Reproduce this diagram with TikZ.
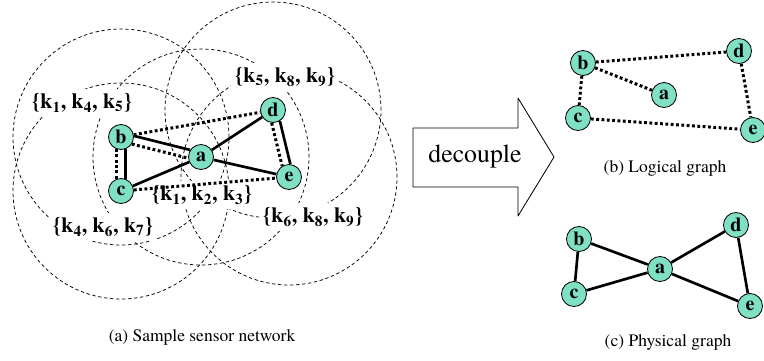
\documentclass[tikz,border=0pt]{standalone}
\usepackage{fontspec}
\setmainfont{TeX Gyre Termes}

\definecolor{motecol}{RGB}{128,224,196}
\tikzset{
    mote/.style={circle, draw=black, line width=0.5pt, fill=motecol,
        minimum size=15pt, inner sep=0pt, font=\fontsize{12}{12}\selectfont\bfseries},
    radio/.style={line width=0.45pt, dash pattern=on 2pt off 1.6pt},
    keyring/.style={fill=white, inner sep=2.5pt, font=\fontsize{13}{15}\selectfont\bfseries},
    phys/.style={line width=1.6pt},
    logi/.style={line width=1.8pt, dash pattern=on 1.7pt off 1.5pt},
    caption/.style={font=\fontsize{10.5}{12}\selectfont}
}

\begin{document}
\begin{tikzpicture}[x=0.6pt, y=-0.6pt, line join=round]
    \useasboundingbox (0,0) rectangle (764,360);

    % sensor positions
    \coordinate (A) at (201,157);
    \coordinate (B) at (121,137);
    \coordinate (C) at (121,191);
    \coordinate (D) at (273,110);
    \coordinate (E) at (289,177);

    % radio ranges
    \foreach \i in {A,B,C,D,E}
        \draw[radio] (\i) circle (64.8pt);

    % key rings
    \node[keyring] (kb) at (82,103) {\{k\textsubscript{1}, k\textsubscript{4}, k\textsubscript{5}\}};
    \node[keyring] (kd) at (285,77) {\{k\textsubscript{5}, k\textsubscript{8}, k\textsubscript{9}\}};
    \node[keyring] (ka) at (202,195) {\{k\textsubscript{1}, k\textsubscript{2}, k\textsubscript{3}\}};
    \node[keyring] (kc) at (103,227) {\{k\textsubscript{4}, k\textsubscript{6}, k\textsubscript{7}\}};
    \node[keyring] (ke) at (313,217) {\{k\textsubscript{6}, k\textsubscript{8}, k\textsubscript{9}\}};

    \node[mote] (a) at (A) {a};
    \node[mote] (b) at (B) {b};
    \node[mote] (c) at (C) {c};
    \node[mote] (d) at (D) {d};
    \node[mote] (e) at (E) {e};

    \draw[phys] (b.290)--(c.70);
    \draw[logi] (b.250)--(c.110);
    \draw[phys] (b.5)--(a.147);
    \draw[logi] (b.-33)--(a.185);
    \draw[logi] (b)--(d);
    \draw[phys] (c)--(a);
    \draw[phys] (a)--(d);
    \draw[phys] (a)--(e);
    \draw[logi] (c)--(e);
    \draw[phys] (d.-58)--(e.84);
    \draw[logi] (d.-96)--(e.122);

    \node[caption] (capa) at (202,337) {(a) Sample sensor network};

    % decouple arrow
    \coordinate (T) at (554,157);
    \draw[line width=0.5pt] (413,128) -- (518,128) -- (518,98) -- (T)
        -- (518,216) -- (518,187) -- (413,187) -- cycle;
    \node[font=\fontsize{15.5}{17}\selectfont] (dec) at (475,156) {decouple};

    % logical graph
    \node[mote] (la) at (664,95) {a};
    \node[mote] (lb) at (583,63) {b};
    \node[mote] (lc) at (578,118) {c};
    \node[mote] (ld) at (739,51) {d};
    \node[mote] (le) at (753,130) {e};
    \draw[logi] (lb)--(ld);
    \draw[logi] (lb)--(la);
    \draw[logi] (lb)--(lc);
    \draw[logi] (lc)--(le);
    \draw[logi] (ld)--(le);
    \node[caption] (capb) at (665,168) {(b) Logical graph};

    % physical graph
    \node[mote] (pa) at (660,269) {a};
    \node[mote] (pb) at (579,239) {b};
    \node[mote] (pc) at (574,294) {c};
    \node[mote] (pd) at (736,225) {d};
    \node[mote] (pe) at (750,306) {e};
    \draw[phys] (pb)--(pa);
    \draw[phys] (pb)--(pc);
    \draw[phys] (pc)--(pa);
    \draw[phys] (pa)--(pd);
    \draw[phys] (pa)--(pe);
    \draw[phys] (pd)--(pe);
    \node[caption] (capc) at (668,342) {(c) Physical graph};
\end{tikzpicture}
\end{document}
